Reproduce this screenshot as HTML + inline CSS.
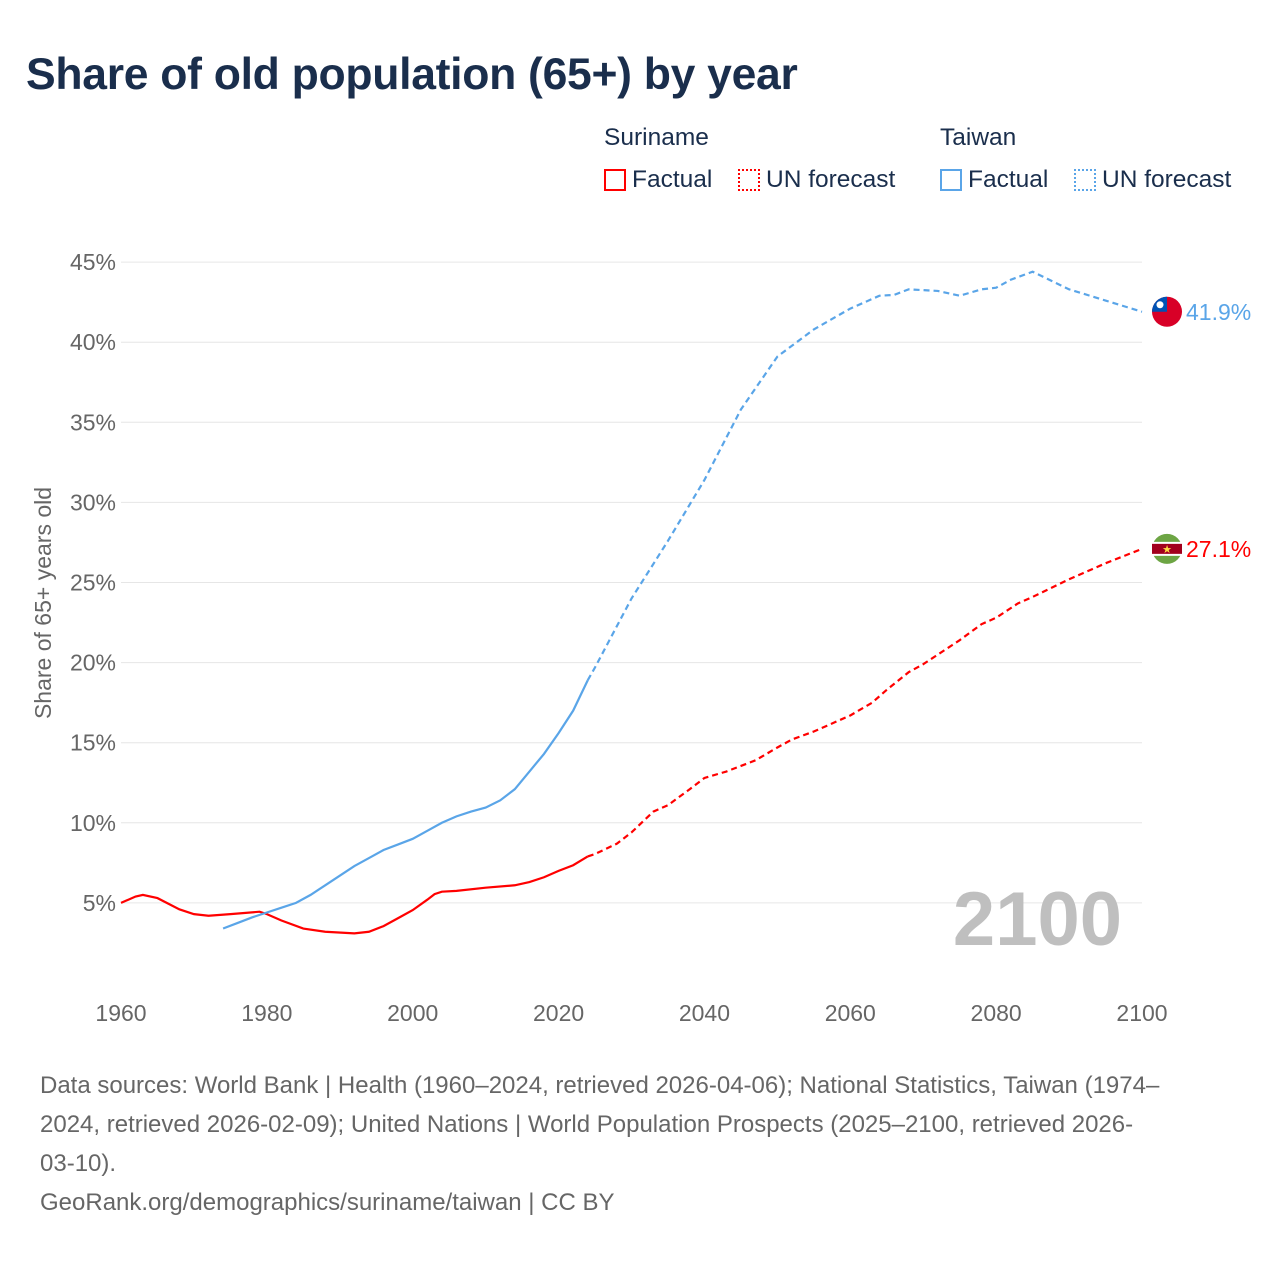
<!DOCTYPE html>
<html><head><meta charset="utf-8"><style>
body{margin:0;background:#fff;font-family:"Liberation Sans",sans-serif;}
#wrap{position:relative;width:1280px;height:1280px;overflow:hidden}
h1{position:absolute;left:26px;top:50px;margin:0;font-size:44.5px;color:#1a2e4c;font-weight:bold;letter-spacing:-0.3px}
.lg{position:absolute;font-size:24.5px;color:#1a2e4c;white-space:nowrap}
.sw{display:inline-block;width:22px;height:22px;box-sizing:border-box;vertical-align:-4px;margin-right:6px}
.src{position:absolute;left:40px;top:1066px;font-size:24px;line-height:39px;color:#666;white-space:nowrap}
</style></head><body><div id="wrap">
<h1>Share of old population (65+) by year</h1>
<div class="lg" style="left:604px;top:124px">Suriname</div>
<div class="lg" style="left:940px;top:124px">Taiwan</div>
<div class="lg" style="left:604px;top:166px"><span class="sw" style="border:2px solid #f00"></span>Factual</div>
<div class="lg" style="left:738px;top:166px"><span class="sw" style="border:2px dotted #f00"></span>UN forecast</div>
<div class="lg" style="left:940px;top:166px"><span class="sw" style="border:2px solid #5aa5e8"></span>Factual</div>
<div class="lg" style="left:1074px;top:166px"><span class="sw" style="border:2px dotted #5aa5e8"></span>UN forecast</div>
<svg id="svg" width="1280" height="1280" style="position:absolute;left:0;top:0" font-family="Liberation Sans, sans-serif"></svg>
<div class="src">Data sources: World Bank | Health (1960–2024, retrieved 2026-04-06); National Statistics, Taiwan (1974–<br>2024, retrieved 2026-02-09); United Nations | World Population Prospects (2025–2100, retrieved 2026-<br>03-10).<br>GeoRank.org/demographics/suriname/taiwan | CC BY</div>
</div>
<script>
const yTicks=[5,10,15,20,25,30,35,40,45];
const xTicks=[1960,1980,2000,2020,2040,2060,2080,2100];
const surFactYears=[1960,1962,1963,1965,1968,1970,1972,1975,1979,1980,1982,1985,1988,1992,1994,1996,1998,2000,2002,2003,2004,2006,2010,2014,2016,2018,2020,2022,2024];
const surFactVals=[5.0,5.4,5.5,5.3,4.6,4.3,4.2,4.3,4.45,4.3,3.9,3.4,3.2,3.1,3.2,3.55,4.05,4.55,5.2,5.55,5.7,5.75,5.95,6.1,6.3,6.6,7.0,7.35,7.9];
const surFcYears=[2024,2025,2028,2030,2033,2035,2038,2040,2043,2047,2050,2052,2055,2057,2060,2063,2065,2068,2070,2075,2078,2080,2083,2085,2090,2095,2100];
const surFcVals=[7.9,8.05,8.7,9.4,10.7,11.1,12.1,12.8,13.2,13.9,14.7,15.2,15.7,16.1,16.7,17.5,18.3,19.4,19.9,21.4,22.4,22.8,23.7,24.1,25.2,26.2,27.1];
const twFactYears=[1974,1976,1978,1980,1982,1984,1986,1988,1990,1992,1994,1996,1998,2000,2002,2004,2006,2008,2010,2012,2014,2016,2018,2020,2022,2024];
const twFactVals=[3.4,3.75,4.1,4.4,4.7,5.0,5.5,6.1,6.7,7.3,7.8,8.3,8.65,9.0,9.5,10.0,10.4,10.7,10.95,11.4,12.1,13.2,14.3,15.6,17.0,18.9];
const twFcYears=[2024,2025,2030,2035,2040,2045,2050,2055,2060,2064,2066,2068,2072,2075,2078,2080,2082,2085,2090,2095,2100];
const twFcVals=[18.9,19.7,24.0,27.6,31.4,35.8,39.1,40.8,42.1,42.9,42.95,43.3,43.2,42.9,43.3,43.4,43.9,44.4,43.3,42.6,41.9];
const NS="http://www.w3.org/2000/svg",svg=document.getElementById('svg');
const X=y=>121+(y-1960)*1021/140, Y=v=>983-v*16.02;
function mk(t,a,p){const e=document.createElementNS(NS,t);for(const k in a)e.setAttribute(k,a[k]);(p||svg).appendChild(e);return e;}
yTicks.forEach(v=>{
 const l=mk('line',{x1:121,x2:1142,y1:Y(v),y2:Y(v),stroke:'#e6e6e6','stroke-width':1});
 
 
 const t=mk('text',{x:116,y:Y(v)+8,'text-anchor':'end','font-size':23,fill:'#666'});t.textContent=v+'%';
 
 
});
xTicks.forEach(v=>{
 const t=mk('text',{x:X(v),y:1021,'text-anchor':'middle','font-size':23,fill:'#666'});t.textContent=v;
 
 
});
const yt=mk('text',{transform:'translate(51,603) rotate(-90)','text-anchor':'middle','font-size':23,fill:'#666'});yt.textContent='Share of 65+ years old';


const yr=mk('text',{x:1122,y:945,'text-anchor':'end','font-size':76,'font-weight':'bold',fill:'#bfbfbf'});yr.textContent='2100';


function line(xs,vs,col,dash,name){
 const p=mk('path',{d:xs.map((x,i)=>(i?'L':'M')+X(x)+','+Y(vs[i])).join(''),fill:'none',stroke:col,'stroke-width':2.2,'stroke-dasharray':dash||'none'});
 
 
}
line(surFactYears,surFactVals,'#f00',null,'suriname-factual-line');
line(surFcYears,surFcVals,'#f00','6,4','suriname-forecast-line');
line(twFactYears,twFactVals,'#5aa5e8',null,'taiwan-factual-line');
line(twFcYears,twFcVals,'#5aa5e8','6,4','taiwan-forecast-line');
const tw=twFcVals[twFcVals.length-1], su=surFcVals[surFcVals.length-1];
const g1=mk('g',{});
mk('circle',{cx:1167,cy:Y(tw),r:15,fill:'#d80027'},g1);
mk('path',{d:`M1152,${Y(tw)} A15,15 0 0 1 1167,${Y(tw)-15} L1167,${Y(tw)} Z`,fill:'#0052b4'},g1);
mk('circle',{cx:1160,cy:Y(tw)-7,r:3.5,fill:'#fff'},g1);
const g2=mk('g',{});
mk('circle',{cx:1167,cy:Y(su),r:15,fill:'#6da544'},g2);
mk('rect',{x:1152,y:Y(su)-7,width:30,height:14,fill:'#fff'},g2);
mk('rect',{x:1152,y:Y(su)-5,width:30,height:10,fill:'#a2001d'},g2);
mk('text',{x:1167,y:Y(su)+4,'text-anchor':'middle','font-size':11,fill:'#ffda44'},g2).textContent='★';
const l1=mk('text',{x:1186,y:Y(tw)+8,'font-size':23,fill:'#5aa5e8'});l1.textContent=tw.toFixed(1)+'%';

const l2=mk('text',{x:1186,y:Y(su)+8,'font-size':23,fill:'#f00'});l2.textContent=su.toFixed(1)+'%';

</script></body></html>
